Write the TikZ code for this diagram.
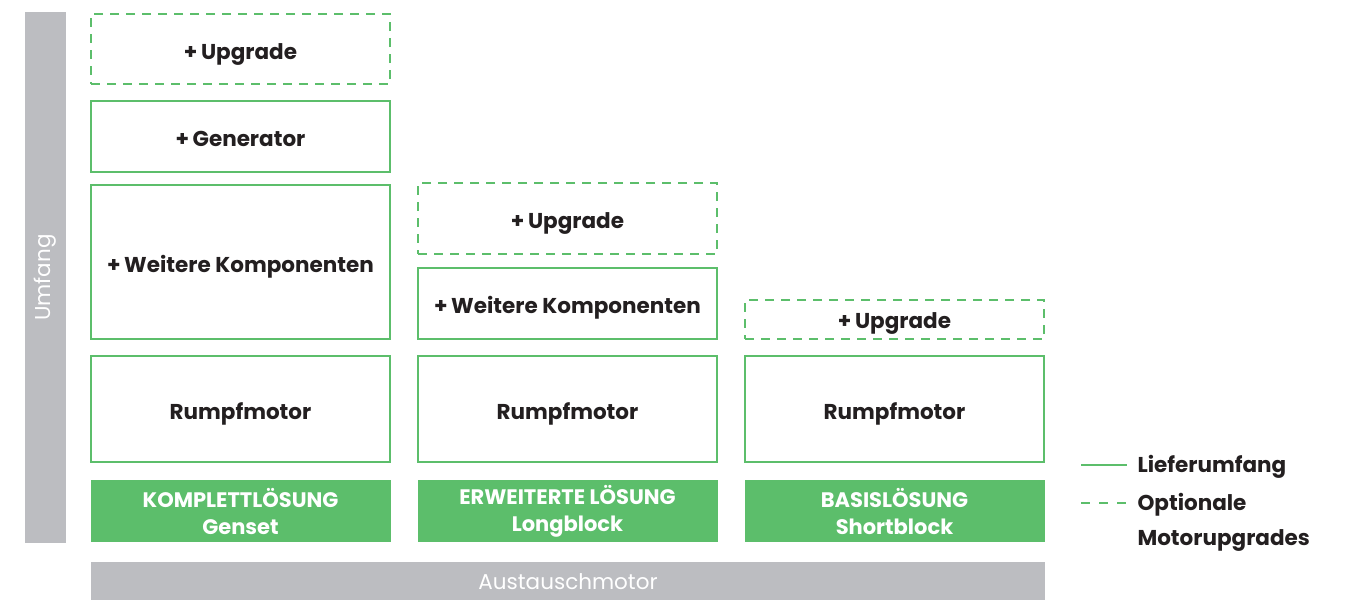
\documentclass[tikz,border=0pt]{standalone}
\usepackage{fontspec}
\setmainfont{Poppins}
\usetikzlibrary{positioning}
\definecolor{umgreen}{HTML}{5CBE6B}
\definecolor{umgrey}{HTML}{BCBDC1}
\definecolor{umtext}{HTML}{231F20}
\tikzstyle{partbox} = [rectangle, draw=umgreen, line width=2.5pt, minimum width=299pt, text centered, text height=20pt, text depth=0pt, text=umtext, font=\fontsize{21.5}{25}\selectfont\bfseries]
\tikzstyle{optbox} = [partbox, dash pattern=on 9pt off 7pt]
\tikzstyle{solbox} = [rectangle, fill=umgreen, minimum width=300pt, minimum height=62pt, align=center, text=white, font=\fontsize{21}{27}\selectfont\bfseries]
\tikzstyle{legtext} = [anchor=west, text=umtext, font=\fontsize{21.5}{25}\selectfont\bfseries]

\begin{document}
\begin{tikzpicture}[x=1pt, y=-1pt]
        \useasboundingbox (0, 0) rectangle (1345, 600);

        % grey bars
        \node[rectangle, fill=umgrey, minimum width=41pt, minimum height=531pt] at (45.5, 277.5) (Umfang) {};
        \node[rotate=90, text=white, font=\fontsize{21.5}{25}\selectfont] at (Umfang) {Umfang};
        \node[rectangle, fill=umgrey, minimum width=954pt, minimum height=40pt] at (568, 582) (Austausch) {};
        \node[text=white, font=\fontsize{21.5}{25}\selectfont] at (Austausch) {Austauschmotor};

        % Komplettloesung
        \node[optbox, minimum height=70pt] at (240.5, 49) (UpgradeA) {+\,Upgrade};
        \node[partbox, minimum height=71pt] at (240.5, 136.5) (Generator) {+\,Generator};
        \node[partbox, minimum height=154pt] at (240.5, 262) (WeitereA) {+\,Weitere Komponenten};
        \node[partbox, minimum height=106pt] at (240.5, 409) (RumpfA) {Rumpfmotor};
        \node[solbox] at (240.5, 511) (Komplett) {KOMPLETTLÖSUNG\\Genset};

        % Erweiterte Loesung
        \node[optbox, minimum height=71pt] at (567.5, 218.5) (UpgradeB) {+\,Upgrade};
        \node[partbox, minimum height=71pt] at (567.5, 303.5) (WeitereB) {+\,Weitere Komponenten};
        \node[partbox, minimum height=106pt] at (567.5, 409) (RumpfB) {Rumpfmotor};
        \node[solbox] at (567.5, 511) (Erweitert) {ERWEITERTE LÖSUNG\\Longblock};

        % Basisloesung
        \node[optbox, minimum height=39pt, text height=18pt] at (894.5, 319.5) (UpgradeC) {+\,Upgrade};
        \node[partbox, minimum height=106pt] at (894.5, 409) (RumpfC) {Rumpfmotor};
        \node[solbox] at (894.5, 511) (Basis) {BASISLÖSUNG\\Shortblock};

        % legend
        \coordinate (LegSolidA) at (1081, 465);
        \coordinate (LegSolidB) at (1127, 465);
        \coordinate (LegDashA) at (1081, 503);
        \coordinate (LegDashB) at (1127, 503);
        \draw[umgreen, line width=2.5pt] (LegSolidA) -- (LegSolidB);
        \draw[umgreen, line width=2.5pt, dash pattern=on 9pt off 9pt] (LegDashA) -- (LegDashB);
        \node[legtext] at (1134, 467) (Liefer) {Lieferumfang};
        \node[legtext] at (1134, 505) (Optional) {Optionale};
        \node[legtext] at (1134, 540) (Motorup) {Motorupgrades};

    \end{tikzpicture}
\end{document}
